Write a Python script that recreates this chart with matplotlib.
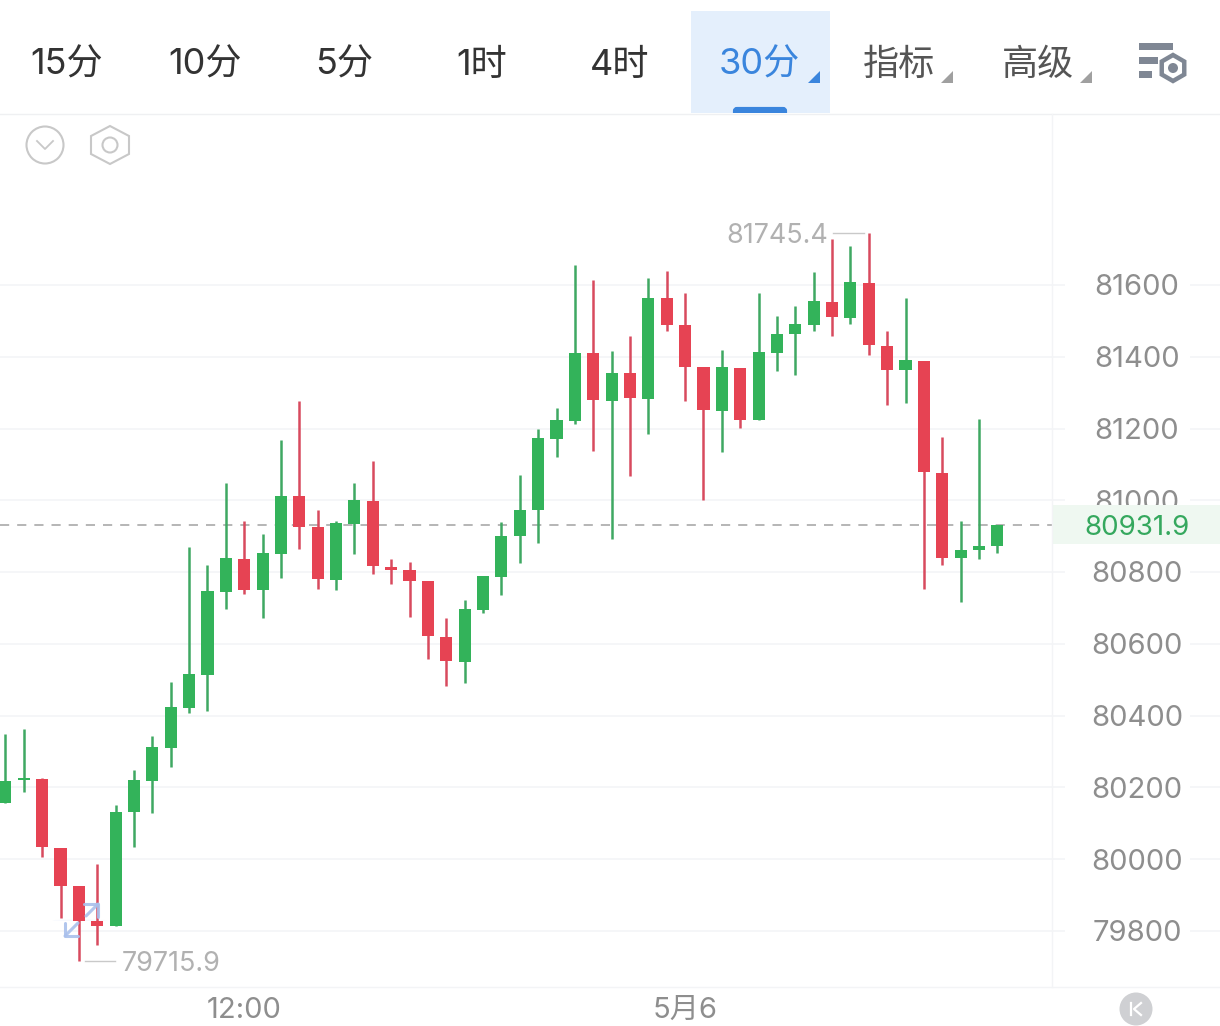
#!/usr/bin/env python3
"""30-minute candlestick screen: tab bar on top, price axis on the right."""
import matplotlib as mpl
mpl.use("Agg")
import matplotlib.pyplot as plt
from matplotlib.patches import Circle, FancyBboxPatch, Polygon, Rectangle, RegularPolygon

# ---- data ----
opens = [80157, 80221, 80224, 80031, 79925, 79828, 79814, 80132, 80218, 80310, 80421,
         80513, 80745, 80837, 80750, 80850, 81012, 80926, 80778, 80934, 80998,
         80814, 80806, 80775, 80619, 80550, 80694, 80786, 80901, 80973, 81171,
         81221, 81411, 81277, 81355, 81282, 81564, 81489, 81372, 81249, 81369,
         81224, 81411, 81463, 81489, 81553, 81508, 81606, 81430, 81363, 81388,
         81076, 80839, 80862, 80873]
closes = [80218, 80226, 80034, 79925, 79828, 79814, 80132, 80221, 80313, 80424, 80516,
          80747, 80839, 80750, 80853, 81012, 80926, 80781, 80937, 81001, 80817,
          80806, 80775, 80622, 80552, 80697, 80789, 80901, 80973, 81174, 81224,
          81411, 81280, 81355, 81285, 81564, 81489, 81372, 81252, 81372, 81224,
          81413, 81463, 81491, 81555, 81511, 81608, 81433, 81363, 81391, 81079,
          80839, 80862, 80873, 80931.9]
highs = [80349, 80363, 80226, 80031, 79925, 79987, 80151, 80249, 80343, 80494, 80870,
         80820, 81048, 80942, 80906, 81168, 81277, 80973, 80942, 81048, 81110,
         80837, 80828, 80775, 80672, 80722, 80789, 80940, 81071, 81199, 81257,
         81656, 81614, 81416, 81458, 81620, 81639, 81578, 81372, 81419, 81369,
         81578, 81514, 81542, 81636, 81728, 81709, 81745.4, 81472, 81564, 81388,
         81176, 80942, 81227, 80931.9]
lows = [80157, 80187, 80006, 79836, 79715.9, 79761, 79814, 80034, 80129, 80257, 80407,
        80413, 80697, 80739, 80672, 80784, 80864, 80753, 80750, 80850, 80795,
        80767, 80675, 80558, 80483, 80491, 80686, 80736, 80825, 80881, 81121,
        81213, 81137, 80892, 81068, 81185, 81472, 81277, 81001, 81135, 81202,
        81224, 81360, 81349, 81472, 81458, 81491, 81405, 81266, 81271, 80753,
        80820, 80717, 80837, 80853]
price_ticks = [79800, 80000, 80200, 80400, 80600, 80800, 81000, 81200, 81400, 81600]
time_pos = [13, 37]
time_labels = ["12:00", "5月6"]
last_price = 80931.9
tabs = ["15分", "10分", "5分", "1时", "4时", "30分", "指标", "高级"]
tab_x = [67, 205, 344, 482, 620, 759, 899, 1038]

GREEN, GREEN_W = "#33b35a", "#3fa862"
RED, RED_W = "#e64353", "#d84a5e"
LABEL, GRID, PALE = "#8e8e8e", "#f3f4f6", "#b1b1b1"
BLUE, TAB_BG = "#3a85dd", "#e4effc"
FS = 21

plt.rcParams["font.family"] = ["Inter", "Noto Sans CJK SC", "DejaVu Sans"]

W, H = 1220, 1026
fig = plt.figure(figsize=(W / 100, H / 100), dpi=100, facecolor="white")

# chart axes fill the whole picture; limits put the candles where they belong
ax = fig.add_axes([0, 0, 1, 1])
ax.set_xlim(-5.4 / 18.37, (W - 5.4) / 18.37)
ax.set_ylim(79800 + (931 - H) * 2.7864, 79800 + 931 * 2.7864)
ax.axis("off")

ytf = ax.get_yaxis_transform()
ax.hlines(price_ticks, 0, 1065 / W, transform=ytf, color=GRID, lw=1.1, zorder=1)
ax.hlines(price_ticks, 1190 / W, 1, transform=ytf, color=GRID, lw=1.1, zorder=1)
for p in price_ticks:
    ax.annotate(str(p), (1137 / W, p), xycoords=ytf, xytext=(0, -2), textcoords="offset points",
                ha="center", va="center", fontsize=FS, color=LABEL, zorder=2)
ax.axhline(last_price, xmin=0, xmax=1052 / W, color="#a9a9a9", lw=1.2,
           dashes=(5.5, 4.8), zorder=2)

# resize handle glow stays under the candles
ax.add_patch(Circle((4.05, 79830), 1.5, color="#f4f7fe", lw=0, zorder=0.5))

for i, (o, c, h, l) in enumerate(zip(opens, closes, highs, lows)):
    up = c >= o
    ax.vlines(i, l, h, color=GREEN_W if up else RED_W, lw=1.8, zorder=3)
    ax.bar(i, abs(c - o), bottom=min(o, c), width=0.66, color=GREEN if up else RED, zorder=4)

xtf = ax.get_xaxis_transform()
for p, t in zip(time_pos, time_labels):
    ax.text(p, 1 - 1010 / H, t, transform=xtf, ha="center", va="center", fontsize=FS, color=LABEL)

# everything else sits on a pixel-coordinate overlay
ch = fig.add_axes([0, 0, 1, 1], facecolor="none")
ch.set_xlim(0, W); ch.set_ylim(H, 0); ch.axis("off")

# tab bar
ch.add_patch(Rectangle((691, 11), 139, 102, color=TAB_BG, lw=0))
bar = FancyBboxPatch((735, 109), 50, 10, boxstyle="round,pad=0,rounding_size=2", fc=BLUE, ec=BLUE, lw=3)
ch.add_patch(bar)
bar.set_clip_path(Rectangle((691, 100), 139, 13, transform=ch.transData))
for t, x in zip(tabs, tab_x):
    col = BLUE if t == "30分" else "#555555" if t in ("指标", "高级") else "#333333"
    ch.text(x, 65, t, ha="center", va="center", fontsize=26, color=col)
for x0, col in zip((808, 941, 1080), (BLUE, "#a0a0a0", "#a0a0a0")):
    ch.add_patch(Polygon([(x0, 83), (x0 + 12, 83), (x0 + 12, 71)], color=col, lw=0))

# settings icon
for x1, y0 in zip((1173, 1158, 1152), (43, 57, 71)):
    ch.add_patch(Rectangle((1139, y0), x1 - 1139, 7, color="#7f8794", lw=0))
ch.add_patch(RegularPolygon((1173, 68), 6, radius=13, fc="white", ec="#7f8794", lw=3.2))
ch.add_patch(Circle((1173, 68), 5, color="#7f8794", lw=0))

# frame lines
ch.plot([0, W], [113.5, 113.5], color="#eff0f2", lw=1)
ch.plot([0, W], [987, 987], color=GRID, lw=1)
ch.plot([1052, 1052], [114, 987], color=GRID, lw=1)

# small icons, top left of the chart
ch.add_patch(Circle((45, 145), 18.5, fc="none", ec="#c8c8c8", lw=1.5))
ch.plot([37, 45, 53], [141, 149, 141], color="#c8c8c8", lw=1.3)
ch.add_patch(Polygon([(110, 126), (129, 136), (129, 154), (110, 164), (91, 154), (91, 136)],
                     fc="none", ec="#c8c8c8", lw=1.5))
ch.add_patch(Circle((110, 145), 7.5, fc="none", ec="#c8c8c8", lw=1.5))

# high and low marks
ch.text(777, 236, "81745.4", ha="center", va="center", fontsize=19.4, color=PALE)
ch.plot([833, 864], [233, 233], color="#c9c9c9", lw=1)
ch.text(122, 964, "79715.9", ha="left", va="center", fontsize=19.4, color=PALE)
ch.plot([85, 115], [961, 961], color="#c9c9c9", lw=1)

# resize handle over the low candles
for pts in ([(84, 904), (98, 904), (98, 917)], [(98, 904), (86, 916)],
            [(65, 923), (65, 936), (78, 936)], [(65, 936), (78, 923)]):
    xs, ys = zip(*pts)
    ch.plot(xs, ys, color="#a9c0ec", lw=2.2, alpha=0.9, solid_capstyle="round")

# last price band
ch.add_patch(Rectangle((1052, 505), H, 39, color="#eff8f1", lw=0))
ch.text(1137, 528, f"{last_price}", ha="center", va="center", fontsize=20, color="#35a85e")

# K button
ch.add_patch(Circle((1136, 1009), 16.5, color="#cfd0d3", lw=0))
ch.plot([1131, 1131], [1003, 1015], color="white", lw=1.6)
ch.plot([1141, 1134, 1141], [1003, 1009, 1015], color="white", lw=1.6)

fig.savefig("out.png", dpi=100)
